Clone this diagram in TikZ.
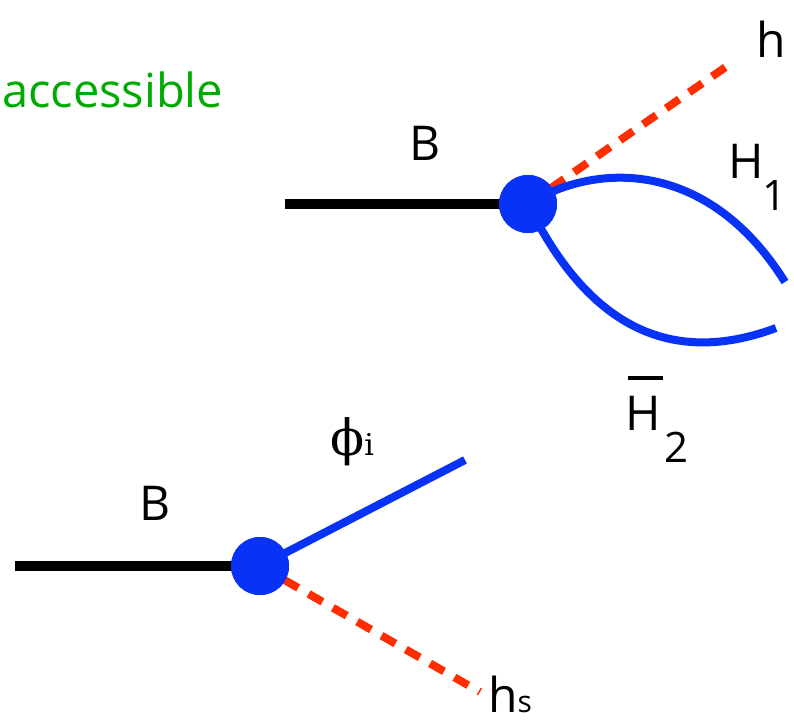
\documentclass[tikz,border=0pt]{standalone}
\usepackage{fontspec}
\setmainfont{Open Sans}
\newfontfamily\serf{DejaVu Serif}
\definecolor{vblue}{RGB}{8,50,245}
\definecolor{vred}{RGB}{255,45,0}
\definecolor{vgreen}{RGB}{0,170,0}
\begin{document}
\begin{tikzpicture}[x=1pt,y=-1pt,
  prop/.style={line width=10pt,black},
  ferm/.style={line width=8pt,vblue},
  scal/.style={line width=8pt,vred,dash pattern=on 16pt off 12pt},
  vtx/.style={circle,fill=vblue,minimum size=58pt,inner sep=0pt},
  lbl/.style={font=\fontsize{48}{48}\selectfont,inner sep=0pt},
  sublbl/.style={font=\fontsize{42}{42}\selectfont,inner sep=0pt}]
\useasboundingbox (0,0) rectangle (794,725);
% top diagram
\coordinate (bt) at (285,204);
\coordinate (ht) at (733,62);
\coordinate (h1e) at (785,282);
\coordinate (h2e) at (776,328);
\node[vtx] (v1) at (528,204) {};
\draw[prop] (bt) -- (v1.center);
\draw[scal] (v1.center) -- (ht);
\draw[ferm] (v1.center) .. controls (600,160) and (710,162) .. (h1e);
\draw[ferm] (v1.center) .. controls (575,300) and (650,375) .. (h2e);
\node[vtx] at (v1) {};
\node[lbl,text=vgreen,anchor=base west,font=\fontsize{47}{47}\selectfont] (acc) at (2,107) {accessible};
\node[lbl,anchor=base west] (lh) at (756,58) {h};
\node[lbl,anchor=base] (lb1) at (425,160) {B};
\node[lbl,anchor=base west] (lH1) at (728,178) {H};
\node[sublbl,anchor=base west] (l1) at (762,210) {1};
\node[lbl,anchor=base west] (lH2) at (625,430) {H};
\draw[line width=4pt] (628,378) -- (663,378);
\node[sublbl,anchor=base west] (l2) at (664,462) {2};
% bottom diagram
\coordinate (bb) at (15,566);
\coordinate (phe) at (465,460);
\coordinate (hse) at (480,692);
\node[vtx] (v2) at (260,566) {};
\draw[prop] (bb) -- (v2.center);
\draw[ferm] (v2.center) -- (phe);
\draw[scal] (v2.center) -- (hse);
\node[vtx] at (v2) {};
\node[lbl,anchor=base] (lb2) at (155,520) {B};
\node[inner sep=0pt,anchor=base west,font=\fontsize{50}{50}\selectfont\serf] (lphi) at (330,455) {ϕ\fontsize{30}{30}\selectfont i};
\node[lbl,anchor=base west] (lhs) at (488,712) {h\fontsize{30}{30}\selectfont s};
\end{tikzpicture}
\end{document}
